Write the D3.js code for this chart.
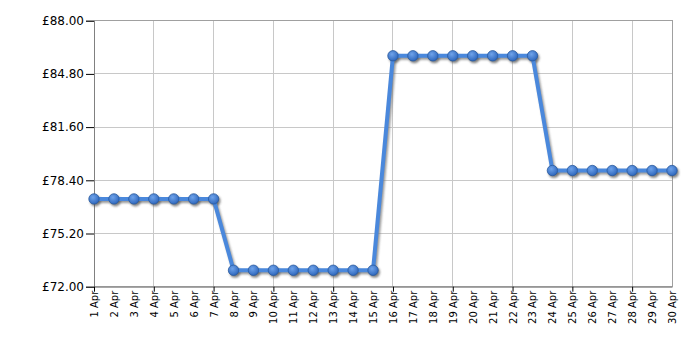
<!DOCTYPE html>
<html><head><meta charset="utf-8">
<script src="https://cdn.jsdelivr.net/npm/d3@7"></script>
<style>body{margin:0;background:#fff}svg{display:block}</style>
</head><body>
<svg id="c" width="700" height="350"></svg>
<script>
const days = d3.range(1, 31).map(d => d + " Apr");
const prices = [77.28,77.28,77.28,77.28,77.28,77.28,77.28,
  72.99,72.99,72.99,72.99,72.99,72.99,72.99,72.99,
  85.89,85.89,85.89,85.89,85.89,85.89,85.89,85.89,
  78.99,78.99,78.99,78.99,78.99,78.99,78.99];
const yTicks = [72, 75.2, 78.4, 81.6, 84.8, 88];
const xGridEvery = 3;

const svg = d3.select("#c");
const L = 94, R = 672, T = 20.7, B = 286.7;
const x = d3.scalePoint().domain(days).range([L, R]);
const y = d3.scaleLinear().domain([72, 88]).range([B, T]);
const font = "DejaVu Sans, Verdana, sans-serif";

const defs = svg.append("defs");
const g = defs.append("radialGradient").attr("id","mk").attr("cx","40%").attr("cy","35%").attr("r","65%");
g.append("stop").attr("offset","0%").attr("stop-color","#6fa3ea");
g.append("stop").attr("offset","100%").attr("stop-color","#2f68be");
defs.append("filter").attr("id","blur").attr("x","-20%").attr("y","-20%").attr("width","140%").attr("height","140%")
  .append("feGaussianBlur").attr("stdDeviation", 0.8);

// grid
const xGridDays = days.filter((d,i) => i % xGridEvery === 0);
svg.append("g").selectAll("line").data(xGridDays).join("line")
  .attr("x1", d => x(d)).attr("x2", d => x(d)).attr("y1", T).attr("y2", B)
  .attr("stroke", "#c8c8c8").attr("stroke-width", 1).attr("shape-rendering","crispEdges");
svg.append("g").selectAll("line").data(yTicks).join("line")
  .attr("x1", L).attr("x2", R).attr("y1", d => y(d)).attr("y2", d => y(d))
  .attr("stroke", "#c8c8c8").attr("stroke-width", 1).attr("shape-rendering","crispEdges");
svg.append("rect").attr("x", L).attr("y", T).attr("width", R-L).attr("height", B-T)
  .attr("fill","none").attr("stroke","#a0a0a0").attr("shape-rendering","crispEdges");

// y axis
const ya = svg.append("g").attr("transform", `translate(${L},0)`)
  .call(d3.axisLeft(y).tickValues(yTicks).tickSize(8).tickPadding(2).tickFormat(d => "£" + d3.format(".2f")(d)));
ya.select(".domain").attr("stroke","#808080");
ya.selectAll(".tick line").attr("stroke","#000");
ya.selectAll("text").attr("font-family", font).attr("font-size", 12).attr("fill","#000");

// x axis
const xa = svg.append("g").attr("transform", `translate(0,${B})`)
  .call(d3.axisBottom(x).tickSize(0).tickPadding(0));
xa.select(".domain").attr("stroke","#808080");
xa.selectAll(".tick line").remove();
xa.selectAll(".tick").filter((d,i) => i % xGridEvery === 0).append("line")
  .attr("y1", 0).attr("y2", 5).attr("stroke", "#000");
xa.selectAll("text").attr("font-family", font).attr("font-size", 10).attr("fill","#000")
  .attr("transform", "rotate(-90)").attr("text-anchor","end").attr("dy","0.35em").attr("x", -4).attr("y", 0);

const line = d3.line().x((d,i) => x(days[i])).y(d => y(d));
// shadow
svg.append("path").datum(prices).attr("d", line).attr("fill","none")
  .attr("stroke","#777").attr("stroke-opacity",0.75).attr("stroke-width",4)
  .attr("transform","translate(1.5,2)").attr("filter","url(#blur)");
svg.append("g").selectAll("circle").data(prices).join("circle")
  .attr("cx",(d,i)=>x(days[i])+1.5).attr("cy",d=>y(d)+2).attr("r",5.5)
  .attr("fill","#555").attr("fill-opacity",0.7).attr("filter","url(#blur)");
// line
svg.append("path").datum(prices).attr("d", line).attr("fill","none")
  .attr("stroke","#4a88dc").attr("stroke-width",4).attr("stroke-linejoin","round");
svg.append("g").selectAll("circle").data(prices).join("circle")
  .attr("cx",(d,i)=>x(days[i])).attr("cy",d=>y(d)).attr("r",5.2)
  .attr("fill","url(#mk)").attr("stroke","#2a5a9e").attr("stroke-width",0.8);
</script>
</body></html>
